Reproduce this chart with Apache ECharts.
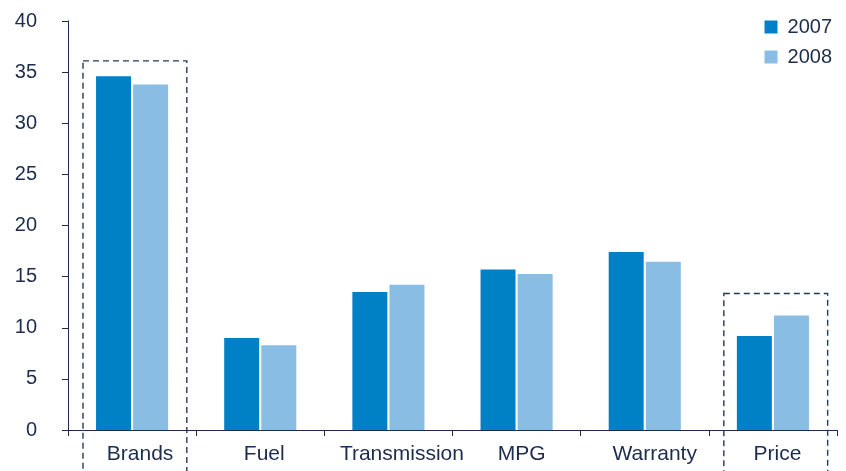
<!DOCTYPE html>
<html>
<head>
<meta charset="utf-8">
<script src="https://cdn.jsdelivr.net/npm/echarts@6/dist/echarts.min.js"></script>
<style>
  html, body { margin: 0; padding: 0; background: #fff; }
  #chart { width: 846px; height: 471px; }
</style>
</head>
<body>
<div id="chart"></div>
<script>
// Share of mentions by topic, 2007 vs 2008
const categories = ['Brands', 'Fuel', 'Transmission', 'MPG', 'Warranty', 'Price'];
const values2007 = [34.6, 9.0, 13.5, 15.7, 17.4, 9.2];
const values2008 = [33.8, 8.3, 14.2, 15.25, 16.45, 11.2];
const yTicks = { min: 0, max: 40, interval: 5 };

// Highlighted categories and the value at which their dashed frame starts
const highlighted = ['Brands', 'Price'];
const frameTops = [36.1, 13.35];

// Left padding nudging each category label slightly right of its band centre
const labelNudge = [16, 8, 27, 10, 20, 9];

const navy = '#1c2c4c';
const frameColor = '#263a5a';

const chart = echarts.init(document.getElementById('chart'), null, { renderer: 'canvas' });

chart.setOption({
  animation: false,
  backgroundColor: '#ffffff',
  textStyle: { fontFamily: 'Liberation Sans, Arial, sans-serif' },
  grid: { left: 68, right: 9, top: 21, bottom: 41, containLabel: false },
  legend: {
    orient: 'vertical',
    right: 9,
    top: 12,
    itemWidth: 13,
    itemHeight: 13,
    itemGap: 10,
    icon: 'rect',
    textStyle: { fontSize: 20, color: navy, padding: [0, 0, 0, 5] },
    data: ['2007', '2008']
  },
  xAxis: {
    type: 'category',
    data: categories.map((c, i) => ({ value: c, textStyle: { padding: [0, 0, 0, labelNudge[i]] } })),
    axisLine: { lineStyle: { color: navy, width: 1 } },
    axisTick: { show: true, interval: 0, length: 6, lineStyle: { color: navy }, alignWithLabel: false },
    axisLabel: { interval: 0, fontSize: 21, color: navy, margin: 14 },
    splitLine: { show: false }
  },
  yAxis: {
    type: 'value',
    min: yTicks.min,
    max: yTicks.max,
    interval: yTicks.interval,
    axisLine: { show: true, lineStyle: { color: navy, width: 1 } },
    axisTick: { show: true, length: 6, lineStyle: { color: navy } },
    axisLabel: { fontSize: 20, color: navy, margin: 31 },
    splitLine: { show: false }
  },
  series: [
    {
      name: '2007',
      type: 'bar',
      data: values2007,
      barWidth: 35,
      barGap: '6%',
      itemStyle: { color: '#0081c6' }
    },
    {
      name: '2008',
      type: 'bar',
      data: values2008,
      barWidth: 35,
      itemStyle: { color: '#8abde3' }
    }
  ]
});

// Dashed frames around the highlighted categories, placed through the axes
function drawFrames() {
  const xAxisModel = chart.getModel().getComponent('xAxis', 0);
  const band = xAxisModel.axis.getBandWidth();
  const frameWidth = band * 0.81;
  const elements = highlighted.map((cat, i) => {
    const p = chart.convertToPixel({ gridIndex: 0 }, [cat, frameTops[i]]);
    const cx = p[0] + band * 0.022;
    return {
      type: 'rect',
      shape: { x: cx - frameWidth / 2, y: p[1], width: frameWidth, height: chart.getHeight() - p[1] + 10 },
      style: { fill: 'none', stroke: frameColor, lineWidth: 1.4, lineDash: [6, 4] },
      z: 10
    };
  });
  chart.setOption({ graphic: elements });
}
drawFrames();
</script>
</body>
</html>
